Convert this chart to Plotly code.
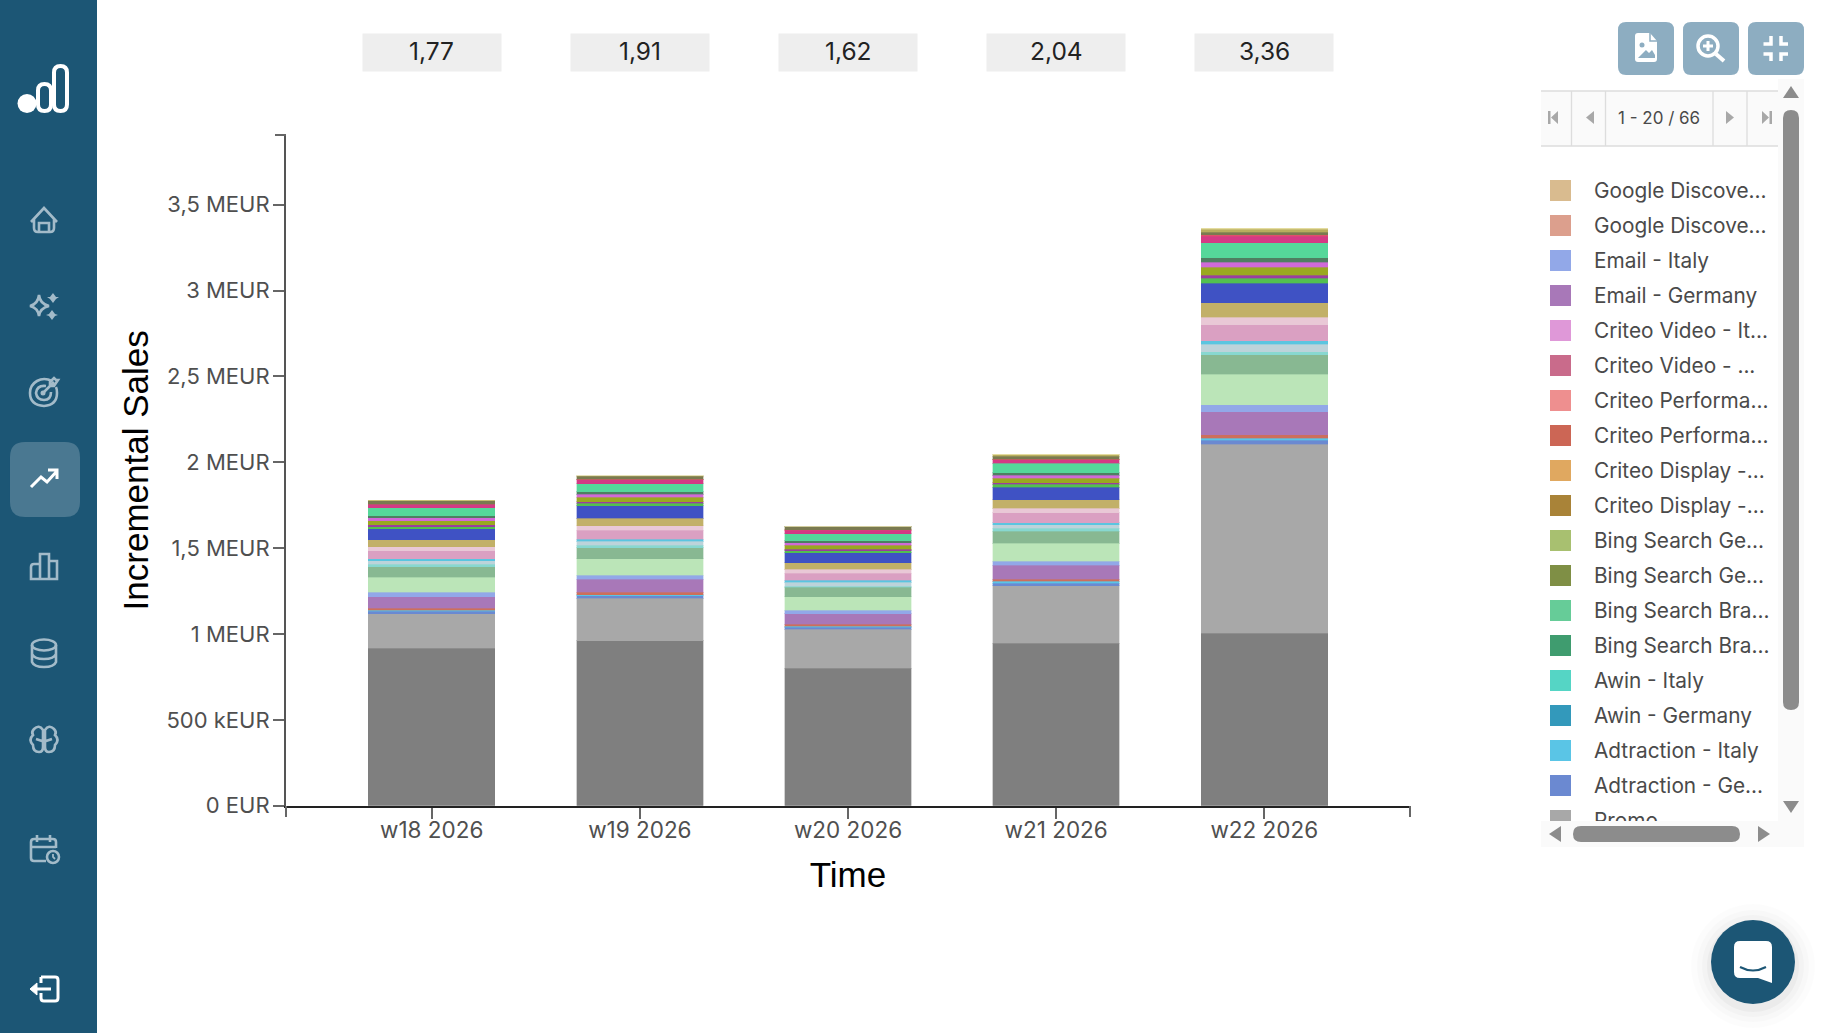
import re
import plotly.graph_objects as go

# ---------- data (MEUR) ----------
weeks = ["w18 2026", "w19 2026", "w20 2026", "w21 2026", "w22 2026"]
totals = ["1,77", "1,91", "1,62", "2,04", "3,36"]

base = [0.917, 0.961, 0.800, 0.947, 1.005]
promo = [0.200, 0.247, 0.228, 0.335, 1.099]
adtraction_de = [0.016, 0.016, 0.012, 0.014, 0.023]
adtraction_it = [0.006, 0.006, 0.006, 0.012, 0.014]
criteo_perf = [0.010, 0.012, 0.010, 0.010, 0.019]
email_de = [0.068, 0.076, 0.062, 0.082, 0.134]
email_it = [0.025, 0.023, 0.019, 0.025, 0.041]
ch_light_green = [0.088, 0.097, 0.080, 0.103, 0.177]
ch_sage = [0.062, 0.064, 0.054, 0.070, 0.115]
ch_teal = [0.014, 0.014, 0.008, 0.018, 0.018]
ch_pale_blue = [0.021, 0.025, 0.023, 0.021, 0.043]
ch_cyan = [0.010, 0.010, 0.010, 0.012, 0.021]
ch_pink = [0.049, 0.053, 0.043, 0.058, 0.093]
ch_light_pink = [0.023, 0.027, 0.023, 0.025, 0.043]
ch_tan = [0.041, 0.043, 0.037, 0.049, 0.084]
ch_blue = [0.064, 0.072, 0.058, 0.074, 0.115]
ch_green = [0.012, 0.014, 0.012, 0.016, 0.027]
ch_purple = [0.010, 0.010, 0.008, 0.010, 0.018]
ch_olive = [0.023, 0.027, 0.023, 0.025, 0.047]
ch_violet = [0.018, 0.018, 0.016, 0.018, 0.029]
ch_dark = [0.012, 0.012, 0.010, 0.016, 0.025]
ch_mint = [0.047, 0.049, 0.043, 0.053, 0.089]
ch_magenta = [0.019, 0.023, 0.019, 0.023, 0.037]
ch_red = [0.002, 0.002, 0.002, 0.002, 0.008]
ch_dark_olive = [0.018, 0.018, 0.018, 0.016, 0.016]
ch_khaki = [0.004, 0.002, 0.002, 0.010, 0.018]
ch_pale = [0.000, 0.000, 0.000, 0.004, 0.004]

stack = [
    ("Base", base, "#7f7f7f"),
    ("Promo", promo, "#a8a8a8"),
    ("Adtraction - Germany", adtraction_de, "#6b89d1"),
    ("Adtraction - Italy", adtraction_it, "#5ac5e6"),
    ("Criteo Performance", criteo_perf, "#cc6f5c"),
    ("Email - Germany", email_de, "#a878b8"),
    ("Email - Italy", email_it, "#92a8e8"),
    ("Channel 21", ch_light_green, "#bbe5b8"),
    ("Channel 22", ch_sage, "#88b892"),
    ("Channel 23", ch_teal, "#88d8d0"),
    ("Channel 24", ch_pale_blue, "#bcd3da"),
    ("Channel 25", ch_cyan, "#5ac5e0"),
    ("Channel 26", ch_pink, "#daa0c2"),
    ("Channel 27", ch_light_pink, "#e9c8d6"),
    ("Channel 28", ch_tan, "#c2b068"),
    ("Channel 29", ch_blue, "#3f52c4"),
    ("Channel 30", ch_green, "#52c050"),
    ("Channel 31", ch_purple, "#9a3da0"),
    ("Channel 32", ch_olive, "#9aa820"),
    ("Channel 33", ch_violet, "#d06ad8"),
    ("Channel 34", ch_dark, "#4f7f62"),
    ("Channel 35", ch_mint, "#55d89a"),
    ("Channel 36", ch_magenta, "#d43a85"),
    ("Channel 37", ch_red, "#e0506a"),
    ("Channel 38", ch_dark_olive, "#7a7a50"),
    ("Channel 39", ch_khaki, "#b8ae5e"),
    ("Channel 40", ch_pale, "#e4dca0"),
]

y_tick_values = [0, 0.5, 1, 1.5, 2, 2.5, 3, 3.5]
y_tick_labels = ["0 EUR", "500 kEUR", "1 MEUR", "1,5 MEUR", "2 MEUR", "2,5 MEUR", "3 MEUR", "3,5 MEUR"]

legend_names = [
    "Google Discove...", "Google Discove...", "Email - Italy", "Email - Germany",
    "Criteo Video - It...", "Criteo Video - ...", "Criteo Performa...", "Criteo Performa...",
    "Criteo Display -...", "Criteo Display -...", "Bing Search Ge...", "Bing Search Ge...",
    "Bing Search Bra...", "Bing Search Bra...", "Awin - Italy", "Awin - Germany",
    "Adtraction - Italy", "Adtraction - Ge...", "Promo",
]
legend_colors = [
    "#d9bb8f", "#dc9f8d", "#92a8e8", "#a878b8", "#df98d8", "#c96b8b", "#ee8f8f", "#cc6655",
    "#e0a860", "#a98338", "#a8c070", "#7f8f45", "#66cc98", "#3f9c6f", "#55d5c5", "#3399bb",
    "#5ac5e6", "#6b89d1", "#a8a8a8",
]

# ---------- layout geometry ----------
W, H = 1824, 1033
SIDE = "#1c5675"
ICON = "#a3bbc9"
BTN = "#8dadc1"
SCROLL = "#8c8c8c"
TRACK = "#fafafa"
INTER = "Inter, Noto Sans, sans-serif"
ARIAL = "Liberation Sans, Arial, sans-serif"


def fx(x):
    return x / W


def fy(y):
    return 1 - y / H


def P(d):
    """Pixel-space SVG path (M L C Q Z only) into paper coordinates."""
    out, is_x = [], True
    for tok in re.findall(r"[MLCQZ]|-?\d+\.?\d*", d):
        if tok in "MLCQZ":
            out.append(tok)
            is_x = True
        else:
            out.append(f"{fx(float(tok)) if is_x else fy(float(tok)):.6f}")
            is_x = not is_x
    return " ".join(out)


shapes = []


def path(d, fill=None, color=None, width=0, opacity=None):
    s = dict(type="path", xref="paper", yref="paper", path=P(d), layer="above",
             line=dict(color=color or "rgba(0,0,0,0)", width=width))
    if fill:
        s["fillcolor"] = fill
    if opacity is not None:
        s["opacity"] = opacity
    shapes.append(s)


def rrect_d(x0, y0, x1, y1, r):
    return (f"M{x0+r} {y0} L{x1-r} {y0} Q{x1} {y0} {x1} {y0+r} L{x1} {y1-r} Q{x1} {y1} {x1-r} {y1} "
            f"L{x0+r} {y1} Q{x0} {y1} {x0} {y1-r} L{x0} {y0+r} Q{x0} {y0} {x0+r} {y0} Z")


def rrect(x0, y0, x1, y1, r, fill=None, color=None, width=0, opacity=None):
    path(rrect_d(x0, y0, x1, y1, r), fill, color, width, opacity)


def rect(x0, y0, x1, y1, fill):
    shapes.append(dict(type="rect", xref="paper", yref="paper", x0=fx(x0), x1=fx(x1), y0=fy(y0), y1=fy(y1),
                       fillcolor=fill, line=dict(width=0), layer="above"))


def circle(cx, cy, r, fill=None, color=None, width=0, opacity=None, ry=None):
    ry = ry or r
    s = dict(type="circle", xref="paper", yref="paper", x0=fx(cx-r), x1=fx(cx+r), y0=fy(cy+ry), y1=fy(cy-ry),
             line=dict(color=color or "rgba(0,0,0,0)", width=width), layer="above")
    if fill:
        s["fillcolor"] = fill
    if opacity is not None:
        s["opacity"] = opacity
    shapes.append(s)


def stroke(d, color=ICON, width=2.6):
    path(d, None, color, width)


# sidebar
rect(0, 0, 97, H, SIDE)
# logo
circle(27, 103.5, 9.5, fill="white")
rrect(38, 84, 51, 111, 6.5, color="white", width=4)
rrect(54, 66, 67, 111, 6.5, color="white", width=4)
# home
stroke("M31 222 L44 208 L57 222 M34 219 L34 228 Q34 232 38 232 L50 232 Q54 232 54 228 L54 219 M39 232 L39 223 L49 223 L49 232")
# sparkles
stroke("M39 295 Q40 304 49 306 Q40 308 39 316 Q38 308 30 306 Q38 304 39 295 Z")
path("M53 293 L56 297 L59 297 L56 299 L53 303 L50 299 L47 297 L50 297 Z", fill=ICON)
path("M52 310 L55 314 L58 315 L55 316 L52 320 L49 316 L46 315 L49 314 Z", fill=ICON)
# target
stroke("M52 381 Q44 377 37 381 Q30 385 30 393 Q30 405 44 406 Q57 405 57 393 Q57 389 56 387")
stroke("M46 386 Q37 385 36 393 Q37 400 44 400 Q51 400 51 392")
stroke("M43 393 L54 382 M50 382 L54 378 L56 380 L58 380 L54 386 L50 386 Z")
circle(43, 393, 2.5, fill=ICON)
# active tile and trend arrow
rrect(10, 442, 80, 517, 15, fill="#4a7891")
stroke("M31 487 L41 477 L47 482 L57 471 M48 470 L57 470 L57 479", color="white", width=3)
# bars icon
stroke("M31 567 Q31 564 34 564 L40 564 L40 579 L31 579 Z M40 554 L49 554 L49 579 L40 579 Z M49 561 L57 561 L57 579 L49 579 Z")
# database
circle(44, 645, 12, color=ICON, width=2.6, ry=5.5)
stroke("M32 645 L32 662 Q34 667 44 667 Q54 667 56 662 L56 645 M32 654 Q34 659 44 659 Q54 659 56 654")
# brain
stroke("M43 730 Q39 724 34 729 Q31 732 33 735 Q28 740 33 745 Q33 752 39 752 Q43 752 43 747 Z "
       "M45 730 Q49 724 54 729 Q57 732 55 735 Q60 740 55 745 Q55 752 49 752 Q45 752 45 747 Z "
       "M36 739 L42 741 M52 739 L46 741")
# calendar
stroke("M56 848 L56 842 Q56 839 53 839 L34 839 Q31 839 31 842 L31 858 Q31 861 34 861 L46 861 M31 847 L56 847 M37 835 L37 842 M50 835 L50 842")
circle(53, 857, 6, color=ICON, width=2.6)
stroke("M53 854 L53 857 L55 859", width=1.8)
# logout
stroke("M41 977 L55 977 Q58 977 58 980 L58 998 Q58 1001 55 1001 L44 1001 Q41 1001 41 998 L41 993 M41 977 L41 983 M51 989 L33 989", color="white", width=3)
path("M30 989 L37 983 L37 995 Z", fill="white", color="white", width=1)

# top-right buttons
for bx in (1618, 1683, 1748):
    rrect(bx, 22, bx + 56, 75, 8, fill=BTN)
path("M1635 36 Q1635 33 1638 33 L1650 33 L1657 41 L1657 59 Q1657 62 1654 62 L1638 62 Q1635 62 1635 59 Z", fill="white")
path("M1650 33 L1650 41 L1657 41", color=BTN, width=1.5)
circle(1642, 45, 2.5, fill=BTN)
path("M1638 58 L1646 50 L1649 53 L1652 50 L1655 55 L1655 58 Z", fill=BTN)
circle(1708, 46, 10, color="white", width=3.5)
stroke("M1716 54 L1724 61", color="white", width=4)
stroke("M1703 46 L1713 46 M1708 41 L1708 51", color="white", width=3)
stroke("M1763.5 44 L1771 44 L1771 36 M1781 36 L1781 44 L1788 44 M1763.5 54 L1771 54 L1771 61 M1781 61 L1781 54 L1788 54",
       color="white", width=3.5)

# pager
rect(1541, 91, 1778, 146, TRACK)
stroke("M1541 91 L1778 91 M1541 146 L1778 146 M1571.5 91 L1571.5 146 M1605.5 91 L1605.5 146 M1713 91 L1713 146 M1747 91 L1747 146",
       color="#dddddd", width=1.3)
GLY = "#a8a8a8"
path("M1558 111 L1558 124 L1551 117.5 Z M1548 111 L1550.5 111 L1550.5 124 L1548 124 Z", fill=GLY)
path("M1594 111 L1594 124 L1586 117.5 Z", fill=GLY)
path("M1726 111 L1726 124 L1734 117.5 Z", fill=GLY)
path("M1762 111 L1762 124 L1769 117.5 Z M1769.5 111 L1772 111 L1772 124 L1769.5 124 Z", fill=GLY)

# vertical scrollbar
rect(1778, 79, 1804, 821, TRACK)
path("M1791 86 L1799 98 L1783 98 Z", fill=SCROLL)
rrect(1783, 110, 1799, 710, 8, fill=SCROLL)
path("M1783 801 L1799 801 L1791 813 Z", fill=SCROLL)
# horizontal scrollbar
rect(1541, 821, 1804, 847, TRACK)
path("M1561 826 L1561 842 L1549 834 Z", fill=SCROLL)
rrect(1573, 826, 1740, 842, 8, fill=SCROLL)
path("M1758 826 L1758 842 L1770 834 Z", fill=SCROLL)

# chat bubble with soft shadow
for r, op in ((62, 0.012), (56, 0.015), (51, 0.02), (46, 0.03)):
    circle(1753, 966, r, fill="#000000", opacity=op)
circle(1753, 962, 42, fill=SIDE)
path("M1734 947 Q1734 941 1740 941 L1766 941 Q1772 941 1772 947 L1772 983 L1758 978 L1740 978 Q1734 978 1734 972 Z", fill="white")
path("M1740 967 Q1753 974 1766 967", color=SIDE, width=2)

# axis end ticks
TICK = "#666666"
stroke("M286 806 L286 817 M1410 806 L1410 817", color=TICK, width=2)
stroke("M275 135 L286 135", color=TICK, width=2)

# ---------- traces ----------
fig = go.Figure()
for name, values, color in stack:
    r, g, b = int(color[1:3], 16), int(color[3:5], 16), int(color[5:7], 16)
    fig.add_bar(x=weeks, y=values, name=name, marker=dict(color=color, line=dict(color=f"rgba({r},{g},{b},0.35)", width=1)),
                showlegend=False)

rows = list(range(len(legend_names)))
fig.add_scatter(x=[0] * len(rows), y=rows, mode="markers", xaxis="x2", yaxis="y2", showlegend=False, hoverinfo="skip",
                marker=dict(symbol="square", size=21, color=legend_colors, line=dict(width=0)))
fig.add_scatter(x=[1] * len(rows), y=[r + 0.057 for r in rows], mode="text", text=legend_names,
                textposition="middle right",
                textfont=dict(family=INTER, size=20.8, color="#4a4a4a"), xaxis="x2", yaxis="y2",
                showlegend=False, hoverinfo="skip", cliponaxis=True)

# ---------- annotations ----------
annotations = [dict(x=w, xref="x", y=fy(52.5), yref="paper", yanchor="middle", xanchor="center", text="&nbsp;",
                    showarrow=False, width=138, height=37, borderpad=0, bgcolor="#eeeeee",
                    font=dict(family=INTER, size=24.5, color="#222222"))
               for w in weeks]
annotations += [dict(x=w, xref="x", y=fy(52.5), yref="paper", yanchor="middle", xanchor="center", text=t,
                     showarrow=False, yshift=2, font=dict(family=INTER, size=24.5, color="#222222"))
                for w, t in zip(weeks, totals)]
annotations.append(dict(x=fx(1659), y=fy(118), xref="paper", yref="paper", xanchor="center", yanchor="middle",
                        text="1 - 20 / 66", showarrow=False, font=dict(family=INTER, size=17, color="#4a4a4a")))

fig.update_layout(
    width=W, height=H, margin=dict(l=0, r=0, t=0, b=0, pad=0, autoexpand=False), autosize=False,
    paper_bgcolor="white", plot_bgcolor="rgba(0,0,0,0)",
    barmode="stack", bargap=0.392, hovermode="closest",
    shapes=shapes, annotations=annotations,
    xaxis=dict(domain=[fx(286), fx(1410)], type="category", categoryorder="array", categoryarray=weeks,
               range=[-0.7, 4.7], tickmode="array", tickvals=weeks, ticks="outside", ticklen=11, tickwidth=2,
               tickcolor=TICK, showgrid=False, showline=True, linecolor="#222222", linewidth=2, zeroline=False,
               automargin=False, ticklabelstandoff=-8,
               tickfont=dict(family=INTER, size=22.5, color="#4f4f4f"),
               title=dict(text="Time", font=dict(family=ARIAL, size=35, color="#000000"), standoff=21)),
    yaxis=dict(domain=[fy(805.7), fy(135)], range=[0, 3.906], tickmode="array", tickvals=y_tick_values,
               ticktext=y_tick_labels, ticks="outside", ticklen=11, tickwidth=2, tickcolor=TICK, showgrid=False,
               showline=True, linecolor="#555555", linewidth=2, zeroline=False, automargin=False,
               ticklabelstandoff=-1,
               tickfont=dict(family=INTER, size=22, color="#4f4f4f"),
               title=dict(text="Incremental Sales", font=dict(family=ARIAL, size=35, color="#000000"), standoff=7)),
    xaxis2=dict(domain=[fx(1541), fx(1778)], range=[-0.582, 6.493], visible=False, anchor="y2", fixedrange=True),
    yaxis2=dict(domain=[fy(821), fy(170)], range=[18.014, -0.5857], visible=False, anchor="x2", fixedrange=True),
)

fig.write_html("out.html", config=dict(displayModeBar=False),
               post_script="document.body.style.margin='0';document.body.style.overflow='hidden';")
